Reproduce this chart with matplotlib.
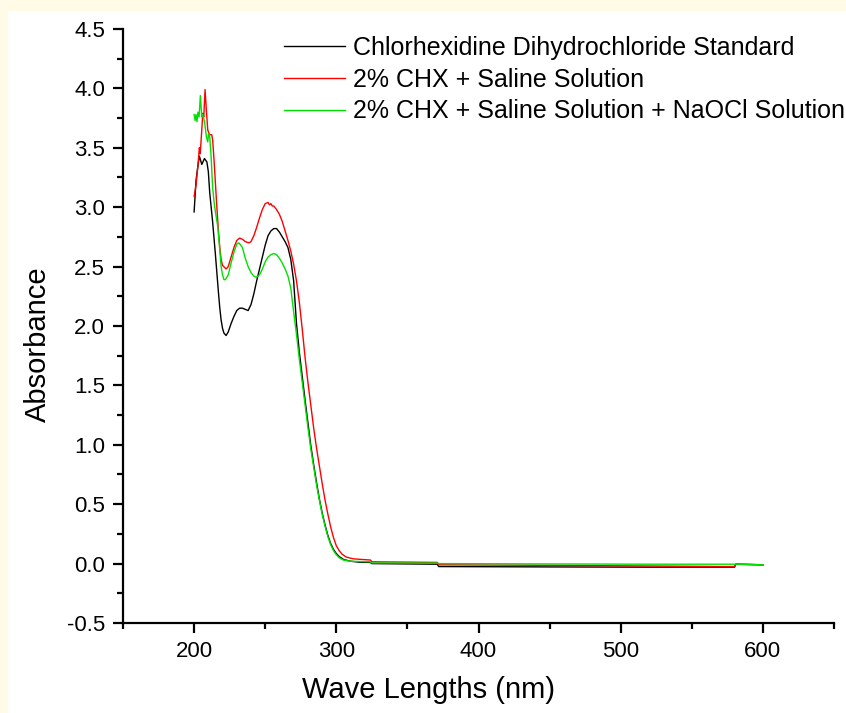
"""UV-Vis absorbance spectra of chlorhexidine samples."""

import matplotlib
matplotlib.use("Agg")
import matplotlib.pyplot as plt
from matplotlib.patches import Rectangle
from matplotlib.ticker import MultipleLocator

plt.rcParams["font.family"] = ["Liberation Sans", "DejaVu Sans"]

# chlorhexidine dihydrochloride standard
wl_std = [200, 201.4, 202.5, 203.7, 205.4, 207.3, 209, 210, 211, 212, 213, 214, 215, 216, 217,
          218, 219, 220, 221, 222.5, 224, 226, 228, 230, 232, 234, 236, 238, 240, 242, 244, 246,
          248, 250, 252, 254, 256, 258, 260, 262, 264, 266, 268, 270, 272, 274, 276, 278, 280,
          282, 284, 286, 288, 290, 292, 294, 296, 298, 300, 302, 305, 310, 316, 324, 325, 371,
          372, 450, 520, 580, 581, 600]
abs_std = [2.96, 3.23, 3.33, 3.43, 3.36, 3.41, 3.38, 3.30, 3.12, 3.00, 2.88, 2.74, 2.60, 2.45, 2.30,
           2.16, 2.05, 1.98, 1.94, 1.92, 1.95, 2.02, 2.08, 2.13, 2.15, 2.15, 2.14, 2.13, 2.18, 2.27,
           2.38, 2.48, 2.58, 2.68, 2.76, 2.80, 2.82, 2.82, 2.79, 2.75, 2.71, 2.66, 2.56, 2.38, 2.02,
           1.78, 1.58, 1.38, 1.19, 1.00, 0.84, 0.69, 0.55, 0.43, 0.33, 0.24, 0.17, 0.12, 0.085,
           0.06, 0.035, 0.02, 0.012, 0.01, 0.0, -0.005, -0.025, -0.028, -0.03, -0.03, -0.005, -0.01]

# 2% CHX + saline
wl_sal = [200, 201.4, 202.6, 203.7, 204.3, 205.4, 206.1, 206.8, 207.7, 208.6, 209.6, 210.8, 212.4,
          213.1, 214, 215, 216, 217, 218, 219, 220, 222.5, 224, 226, 228, 230, 232, 234, 236,
          238.6, 240, 242, 244, 246, 248, 250, 252, 253, 254, 255, 256, 258, 260, 262, 264, 266,
          268, 270, 272, 274, 276, 278, 280, 282, 284, 286, 288, 290, 292, 294, 296, 298, 300,
          302, 304, 307, 312, 318, 324, 325, 371, 372, 450, 520, 580, 581, 600]
abs_sal = [3.09, 3.19, 3.34, 3.50, 3.45, 3.65, 3.79, 3.76, 3.99, 3.82, 3.65, 3.61, 3.61, 3.56,
           3.40, 3.20, 3.00, 2.82, 2.67, 2.56, 2.51, 2.48, 2.50, 2.58, 2.66, 2.72, 2.74, 2.73, 2.71,
           2.70, 2.71, 2.76, 2.83, 2.91, 2.98, 3.03, 3.04, 3.02, 3.03, 3.01, 3.01, 2.98, 2.94, 2.88,
           2.80, 2.72, 2.63, 2.52, 2.38, 2.20, 1.98, 1.74, 1.53, 1.34, 1.15, 0.98, 0.83, 0.68, 0.54,
           0.42, 0.31, 0.22, 0.15, 0.11, 0.08, 0.055, 0.04, 0.035, 0.03, 0.015, 0.01, -0.01, -0.015,
           -0.02, -0.025, -0.005, -0.01]

# 2% CHX + saline + NaOCl
wl_naocl = [200, 200.7, 201.3, 202, 202.7, 203.5, 204.4, 205.4, 206.1, 207.3, 208.7, 209.6, 210.2,
            211, 212, 213, 214, 215, 216.6, 218, 219, 220, 221, 222, 224, 226, 228, 230, 231.5,
            234, 236, 238, 240, 242, 243.5, 246, 248, 250, 252, 254, 256, 258, 260, 262, 264, 266,
            268, 270, 272, 274, 276, 278, 280, 282, 284, 286, 288, 290, 292, 294, 296, 298, 300,
            302, 305, 310, 324, 325, 371, 372, 450, 520, 580, 600]
abs_naocl = [3.78, 3.73, 3.78, 3.72, 3.80, 3.76, 3.94, 3.76, 3.78, 3.72, 3.59, 3.55, 3.62, 3.59,
             3.42, 3.17, 3.05, 2.96, 2.84, 2.65, 2.50, 2.43, 2.39, 2.39, 2.43, 2.53, 2.62, 2.69,
             2.70, 2.66, 2.57, 2.50, 2.45, 2.42, 2.41, 2.43, 2.48, 2.54, 2.58, 2.60, 2.61, 2.60,
             2.57, 2.53, 2.48, 2.42, 2.32, 2.12, 1.93, 1.72, 1.53, 1.34, 1.15, 0.97, 0.82, 0.67,
             0.54, 0.42, 0.32, 0.23, 0.16, 0.11, 0.075, 0.05, 0.03, 0.02, 0.015, 0.005, 0.005, 0.0,
             -0.003, -0.005, -0.005, -0.01]

labels = ["Chlorhexidine Dihydrochloride Standard",
          "2% CHX + Saline Solution",
          "2% CHX + Saline Solution + NaOCl Solution"]
colors = ["black", "#FF0000", "#00E000"]

fig = plt.figure(figsize=(8.46, 7.13), dpi=100)
fig.patches.append(Rectangle((0, 0), 7 / 846, 1, transform=fig.transFigure,
                             color="#FFFBE6", zorder=-1))
fig.patches.append(Rectangle((0, 1 - 10 / 713), 1, 10 / 713, transform=fig.transFigure,
                             color="#FFFBE6", zorder=-1))
ax = fig.add_axes([123 / 846, 1 - 623 / 713, 711 / 846, 594 / 713])

series = [(wl_std, abs_std), (wl_sal, abs_sal), (wl_naocl, abs_naocl)]
for (x, y), lab, col in zip(series, labels, colors):
    ax.plot(x, y, color=col, lw=1.0, label=lab)

ax.set_xlim(150, 650)
ax.set_ylim(-0.5, 4.5)
ax.xaxis.set_major_locator(MultipleLocator(100))
ax.xaxis.set_minor_locator(MultipleLocator(50))
ax.yaxis.set_major_locator(MultipleLocator(0.5))
ax.yaxis.set_minor_locator(MultipleLocator(0.25))
ax.yaxis.set_major_formatter(lambda v, p: f"{v:.1f}")
ax.spines["top"].set_visible(False)
ax.spines["right"].set_visible(False)
for s in ("left", "bottom"):
    ax.spines[s].set_linewidth(1.6)
ax.tick_params(which="major", direction="out", length=7, width=1.6, labelsize=16, pad=6)
ax.tick_params(which="minor", direction="out", length=4, width=1.6)

ax.set_xlabel("Wave Lengths (nm)", fontsize=21)
ax.set_ylabel("Absorbance", fontsize=21)
ax.xaxis.set_label_coords((428 - 123) / 711, -0.09)
ax.yaxis.set_label_coords(-0.10, 0.47)

ax.legend(loc="upper left", bbox_to_anchor=(284 / 846, 1 - 36 / 713),
          bbox_transform=fig.transFigure, frameon=False, fontsize=18,
          handlelength=2.45, handletextpad=0.3, labelspacing=0.31,
          borderpad=0, borderaxespad=0)

fig.savefig("out.png", dpi=100)
